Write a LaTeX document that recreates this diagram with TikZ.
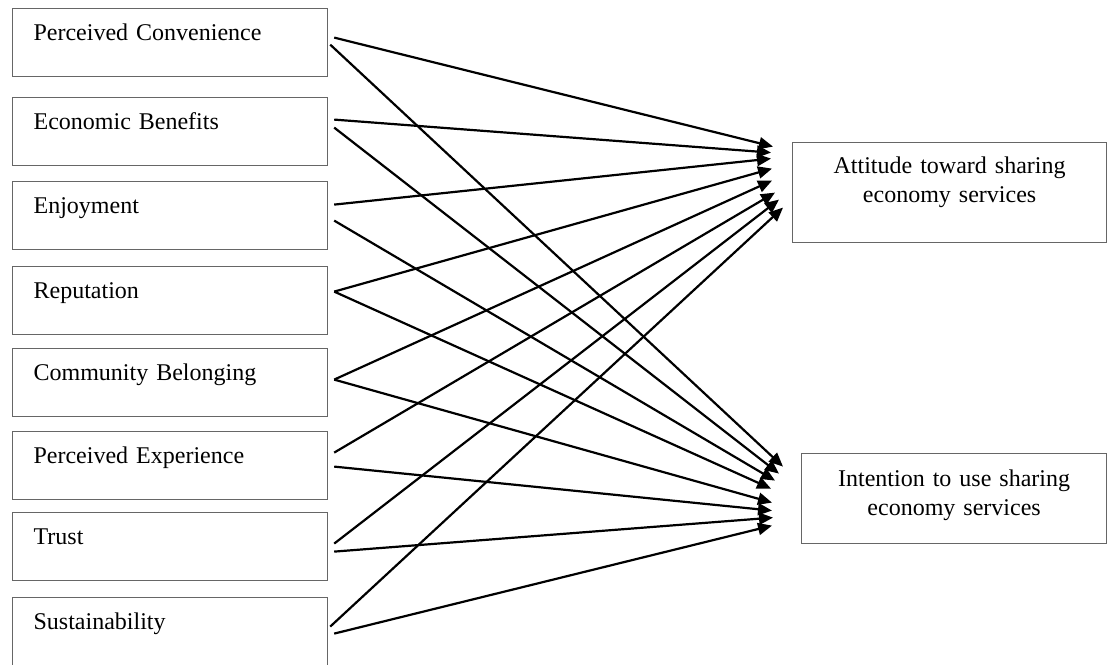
\documentclass[tikz,border=0pt]{standalone}
\usepackage{fontspec}
\setmainfont{Liberation Serif}
\usetikzlibrary{arrows.meta,calc}

\begin{document}
\begin{tikzpicture}[
    x=0.5pt, y=-0.5pt,
    factor/.style={draw=black!60, line width=0.6pt, anchor=north west, minimum width=157.5pt, minimum height=34pt, inner xsep=10.5pt, inner ysep=0pt, text width=136.5pt, align=left, text height=16pt, text depth=18pt, font=\fontsize{12}{14.5}\selectfont},
    outcome/.style={draw=black!60, line width=0.6pt, anchor=north west, text width=140pt, align=center, inner ysep=0pt, font=\fontsize{12}{14.5}\selectfont},
    arrow/.style={-{Triangle[length=7pt,width=6pt]}, line width=1.1pt},
]
\useasboundingbox (0,0) rectangle (1107,664);
% antecedents
\node[factor] (conv)  at (12,8)   {Perceived Convenience};
\node[factor] (econ)  at (12,97)  {Economic Benefits};
\node[factor] (enjoy) at (12,181) {Enjoyment};
\node[factor] (repu)  at (12,266) {Reputation};
\node[factor] (comm)  at (12,348) {Community Belonging};
\node[factor] (exper) at (12,431) {Perceived Experience};
\node[factor] (trust) at (12,512) {Trust};
\node[factor] (sust)  at (12,597) {Sustainability};
% outcomes
\node[outcome, minimum width=157pt, minimum height=50pt, text height=9pt, text depth=28pt] (att) at (792,142) {Attitude toward sharing\\economy services};
\node[outcome, minimum width=152.5pt, minimum height=45pt, text height=9pt, text depth=21pt] (intent) at (801,453) {Intention to use sharing\\economy services};
% paths to attitude
\draw[arrow] ($(conv.east)+(6,-5)$)   -- ($(att.west)+(-19,-46)$);
\draw[arrow] ($(econ.east)+(6,-12)$)  -- ($(att.west)+(-21,-40)$);
\draw[arrow] ($(enjoy.east)+(6,-11)$) -- ($(att.west)+(-21,-34)$);
\draw[arrow] ($(repu.east)+(6,-9)$)   -- ($(att.west)+(-20,-24)$);
\draw[arrow] ($(comm.east)+(6,-3)$)   -- ($(att.west)+(-20,-12)$);
\draw[arrow] ($(exper.east)+(6,-13)$) -- ($(att.west)+(-17,0)$);
\draw[arrow] ($(trust.east)+(6,-3)$)  -- ($(att.west)+(-13,7)$);
\draw[arrow] ($(sust.east)+(2,-5)$)   -- ($(att.west)+(-9,15)$);
% paths to intention
\draw[arrow] ($(conv.east)+(2,2)$)    -- ($(intent.west)+(-18,-32)$);
\draw[arrow] ($(econ.east)+(6,-4)$)   -- ($(intent.west)+(-22,-25)$);
\draw[arrow] ($(enjoy.east)+(6,5)$)   -- ($(intent.west)+(-26,-18)$);
\draw[arrow] ($(repu.east)+(6,-9)$)   -- ($(intent.west)+(-30,-10)$);
\draw[arrow] ($(comm.east)+(6,-3)$)   -- ($(intent.west)+(-29,4)$);
\draw[arrow] ($(exper.east)+(6,1)$)   -- ($(intent.west)+(-29,12)$);
\draw[arrow] ($(trust.east)+(6,5)$)   -- ($(intent.west)+(-28,19)$);
\draw[arrow] ($(sust.east)+(6,2)$)    -- ($(intent.west)+(-29,27)$);
\end{tikzpicture}
\end{document}
